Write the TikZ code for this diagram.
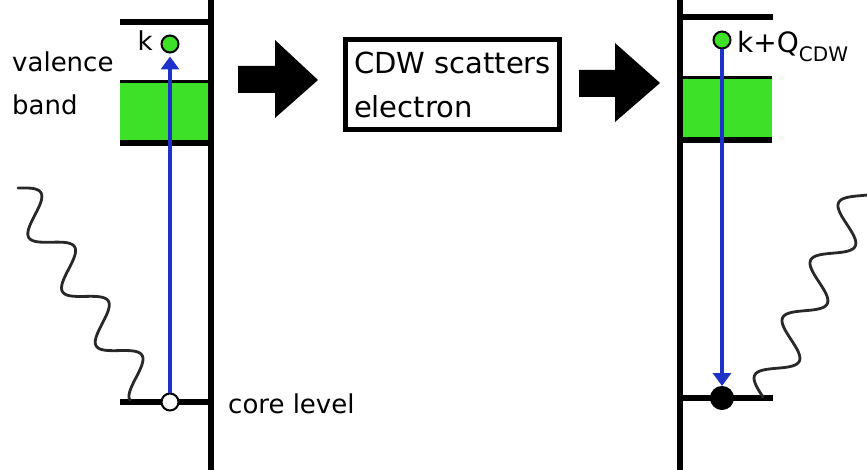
\documentclass[tikz,border=0pt]{standalone}
\usepackage{fontspec}
\setmainfont{DejaVu Sans}
\usetikzlibrary{arrows.meta}
\definecolor{bandgreen}{RGB}{60,225,40}
\definecolor{eblue}{RGB}{30,50,200}
\definecolor{wavegray}{RGB}{40,40,40}
\tikzset{
  axisline/.style={line width=5.5pt, black},
  levelline/.style={line width=5.5pt, black},
  thinlevel/.style={line width=3pt, black},
  state/.style={circle, draw=black, line width=2pt, minimum size=17pt, inner sep=0pt},
  lbl/.style={inner sep=0pt, anchor=base west, font=\fontsize{26}{30}\selectfont},
  trans/.style={eblue, line width=3.5pt, -{Triangle[width=18pt,length=13pt]}},
  photon/.style={wavegray, line width=2.8pt, line cap=round},
  blockarrow/.style={fill=black},
}
\begin{document}
\begin{tikzpicture}[x=1pt,y=-1pt]
\useasboundingbox (0,0) rectangle (867,470);
\clip (0,0) rectangle (867,470);

% ---------- left panel ----------
\fill[bandgreen] (120,82) rectangle (211,143);
\draw[thinlevel] (120,82) -- (211,82);
\draw[line width=6.5pt] (120,143) -- (211,143);
\draw[levelline] (120,22) -- (211,22);
\draw[levelline] (120,402) -- (211,402);
\draw[axisline] (211,0) -- (211,470);

\draw[photon] plot[domain=0:239.4, samples=280, smooth]
  ({18 + 0.528*\x + 17*sin(\x*5.6391)*0.849},
   {188 + 0.849*\x - 17*sin(\x*5.6391)*0.528});

\node[state, fill=bandgreen] (k1) at (170,44) {};
\node[state, fill=white] (c1) at (170,402) {};
\draw[trans, shorten >=3pt] (c1) -- (k1);

\node[lbl] (val) at (12,72) {valence};
\node[lbl] (band) at (12,115) {band};
\node[lbl, anchor=base east] (klbl) at (153,51) {k};
\node[lbl] (core) at (228,413) {core level};

% ---------- middle ----------
\fill[blockarrow] (238,66) -- (275,66) -- (275,40) -- (318,80) -- (275,118) -- (275,93) -- (238,93) -- cycle;
\node[draw, line width=4.5pt, minimum width=214pt, minimum height=90pt, align=left,
      font=\fontsize{29}{44}\selectfont, inner sep=0pt] (cdw) at (452.5,84.5) {CDW scatters\\electron};
\fill[blockarrow] (579,70) -- (615,70) -- (615,43) -- (660,83) -- (615,122) -- (615,97) -- (579,97) -- cycle;

% ---------- right panel ----------
\fill[bandgreen] (680,78) rectangle (772,140);
\draw[thinlevel] (680,78) -- (772,78);
\draw[line width=6.5pt] (680,140) -- (772,140);
\draw[levelline] (680,17) -- (773,17);
\draw[levelline] (680,398) -- (773,398);
\draw[axisline] (680,0) -- (680,470);

\draw[photon] plot[domain=0:238, samples=280, smooth]
  ({763 + 0.437*\x - 17*sin(\x*5.625)*0.899},
   {397 - 0.899*\x - 17*sin(\x*5.625)*0.437});

\node[state, fill=bandgreen] (k2) at (722,40) {};
\node[state, fill=black, minimum size=22pt] (c2) at (722,398) {};
\draw[trans] (k2) -- (c2);

\node[lbl, font=\fontsize{28}{30}\selectfont] (kq) at (737,53)
  {k+Q\raisebox{-9pt}{\fontsize{20}{20}\selectfont CDW}};
\end{tikzpicture}
\end{document}
